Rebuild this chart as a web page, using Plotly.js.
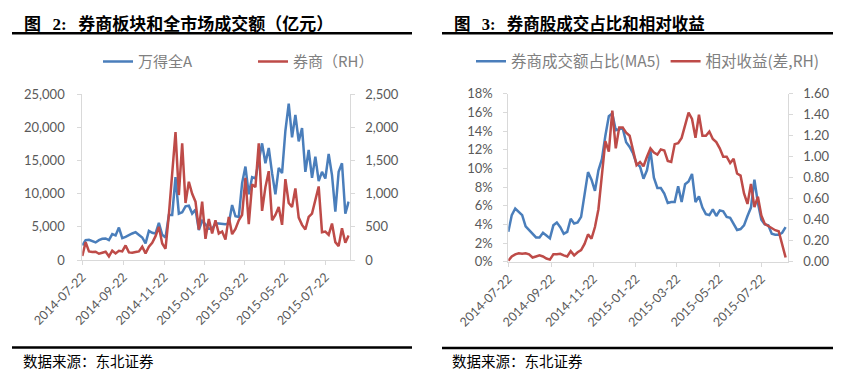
<!DOCTYPE html>
<html>
<head>
<meta charset="utf-8">
<script src="https://cdn.plot.ly/plotly-3.0.1.min.js"></script>
<style>html,body{margin:0;padding:0;background:#fff;}#chart{width:852px;height:381px;}</style>
</head>
<body>
<div id="chart"></div>
<script>
// ---- data (sampled every 5 calendar days from 2014-07-22) ----
const startDate = '2014-07-22';
const stepDays = 5;
const tickLabels = ['2014-07-22','2014-09-22','2014-11-22','2015-01-22','2015-03-22','2015-05-22','2015-07-22'];

// 图2: 万得全A 成交额 (亿元, left axis)
const allA = [2200,3000,3050,2900,2650,3000,3200,3250,3000,3900,
  3700,4900,3300,3500,3800,4000,4200,3750,3400,2500,
  4400,4100,4000,5600,3800,3400,6800,6800,12500,7000,
  7200,8100,8200,7000,7600,4500,5900,5400,4700,4700,
  5500,5500,5400,5400,5500,8300,6600,6500,11600,14100,
  9900,12500,12300,14900,17600,14600,16900,13100,9900,13900,
  13100,19500,23600,18500,21900,17900,19900,13300,16600,12400,
  15600,11900,13300,12300,16000,12800,7300,13300,14600,7000,8800];
// 图2: 券商 成交额 (亿元, right axis)
const broker = [60,270,130,120,125,95,110,125,55,140,
  100,140,130,220,115,110,120,130,200,100,
  200,260,360,500,250,170,680,1250,1930,980,
  1760,860,1180,1000,880,460,880,320,620,400,
  600,400,430,310,650,390,470,600,680,1240,
  540,1140,1100,1760,740,1100,1340,600,680,800,
  530,1220,860,800,1080,640,530,460,650,700,
  930,1110,420,430,380,550,270,210,480,260,370];
// 图3: 券商成交额占比 MA5 (%, left axis)
const share = [3.2,5.0,5.7,5.4,5.0,3.8,3.4,2.9,2.6,2.6,
  3.1,2.8,2.5,3.9,4.2,3.7,3.0,3.2,4.6,4.1,
  4.2,4.8,7.0,9.6,8.8,7.6,9.8,11.0,13.5,15.6,
  15.9,14.1,14.2,14.3,12.8,12.3,11.6,10.5,10.2,8.9,
  9.8,11.9,9.0,7.9,7.9,7.3,6.3,6.4,6.4,8.1,
  6.4,8.3,8.6,9.4,6.4,7.0,5.8,5.1,5.0,5.6,
  4.9,5.5,5.4,4.8,4.7,4.0,3.4,3.5,3.9,4.9,
  5.8,8.8,6.3,4.5,4.0,3.9,3.0,2.9,2.9,3.1,3.7];
// 图3: 相对收益 (差, right axis)
const relRet = [0.01,0.05,0.07,0.08,0.075,0.08,0.07,0.04,0.05,0.06,
  0.05,0.03,0.02,0.07,0.07,0.075,0.06,0.05,0.10,0.06,
  0.09,0.11,0.17,0.26,0.22,0.33,0.50,0.80,1.15,1.05,
  1.44,1.08,1.28,1.28,1.23,1.20,1.05,0.92,0.95,0.91,
  1.00,1.08,1.04,1.02,1.07,1.06,0.96,0.95,1.12,1.13,
  1.18,1.30,1.42,1.36,1.18,1.40,1.20,1.20,1.24,1.17,
  1.14,1.08,1.00,1.00,0.94,0.98,0.84,0.82,0.65,0.55,
  0.74,0.52,0.62,0.44,0.36,0.34,0.32,0.30,0.29,0.15,0.04];

function dateAt(i){
  const d = new Date(startDate + 'T00:00:00Z');
  d.setUTCDate(d.getUTCDate() + i*stepDays);
  return d.toISOString().slice(0,10);
}
const dates = allA.map((_, i) => dateAt(i));

// ---- layout helpers (pixel -> paper) ----
const W = 852, H = 381;
const px = x => x / W;
const py = y => 1 - y / H;

const BLUE = '#4A7EBB', RED = '#BE4B48';
const CJK = '"Noto Sans CJK SC", "Liberation Sans", sans-serif';
const NUM = 'Lato, "Liberation Sans", sans-serif';
const AX = '#D9D9D9', TXT = '#595959';

const traces = [
  {x: dates, y: allA, name: '万得全A', type: 'scatter', mode: 'lines', xaxis: 'x', yaxis: 'y',
   line: {color: BLUE, width: 2.5}, legend: 'legend'},
  {x: dates, y: broker, name: '券商（RH）', type: 'scatter', mode: 'lines', xaxis: 'x', yaxis: 'y2',
   line: {color: RED, width: 2.5}, legend: 'legend'},
  {x: dates, y: share, name: '券商成交额占比(MA5)', type: 'scatter', mode: 'lines', xaxis: 'x2', yaxis: 'y3',
   line: {color: BLUE, width: 2.5}, legend: 'legend2'},
  {x: dates, y: relRet, name: '相对收益(差,RH)', type: 'scatter', mode: 'lines', xaxis: 'x2', yaxis: 'y4',
   line: {color: RED, width: 2.5}, legend: 'legend2'}
];

function xAxis(domain, anchor, endDate){
  return {domain: domain, anchor: anchor, type: 'date', range: [startDate, endDate],
    tickmode: 'array', tickvals: tickLabels, ticktext: tickLabels, tickangle: -45,
    ticks: 'outside', ticklen: 4, tickcolor: AX, showline: true, linecolor: AX, linewidth: 1,
    showgrid: false, zeroline: false, tickfont: {family: NUM, size: 12.5, color: TXT}};
}
function yAxis(extra){
  return Object.assign({showgrid: false, zeroline: false, showline: true, linecolor: AX, linewidth: 1,
    ticks: 'outside', ticklen: 4, tickcolor: AX, tickfont: {family: NUM, size: 13, color: TXT},
    fixedrange: true}, extra);
}

const layout = {
  width: W, height: H, margin: {l: 0, r: 0, t: 0, b: 0},
  paper_bgcolor: '#fff', plot_bgcolor: 'rgba(0,0,0,0)',
  showlegend: true,
  xaxis: xAxis([px(82.3), px(349.7)], 'y', '2015-08-27 14:00'),
  yaxis: yAxis({domain: [py(260), py(94.3)], anchor: 'x', range: [0, 25000], dtick: 5000,
    tickformat: ',d', ticklabelstandoff: 10}),
  yaxis2: yAxis({overlaying: 'y', side: 'right', anchor: 'x', range: [0, 2500], dtick: 500,
    tickformat: ',d', ticklabelstandoff: 8}),
  xaxis2: xAxis([px(508.3), px(787.7)], 'y3', '2015-08-29'),
  yaxis3: yAxis({domain: [py(261.7), py(93.8)], anchor: 'x2', range: [0, 18], dtick: 2,
    ticksuffix: '%', ticklabelstandoff: 8}),
  yaxis4: yAxis({overlaying: 'y3', side: 'right', anchor: 'x2', range: [0, 1.6], dtick: 0.2,
    tickformat: '.2f', ticklabelstandoff: 8}),
  legend: {orientation: 'h', x: px(98), y: py(61.7), xanchor: 'left', yanchor: 'middle',
    font: {family: CJK, size: 15, color: '#808080'}, bgcolor: 'rgba(0,0,0,0)', itemwidth: 30,
    entrywidth: 110, entrywidthmode: 'pixels'},
  legend2: {orientation: 'h', x: px(471), y: py(61.7), xanchor: 'left', yanchor: 'middle',
    font: {family: CJK, size: 15.5, color: '#808080'}, bgcolor: 'rgba(0,0,0,0)', itemwidth: 30},
  shapes: [
    {type: 'line', xref: 'paper', yref: 'paper', x0: px(12), x1: px(412), y0: py(33.3), y1: py(33.3), line: {color: '#000', width: 2.5}},
    {type: 'line', xref: 'paper', yref: 'paper', x0: px(442), x1: px(833), y0: py(33.3), y1: py(33.3), line: {color: '#000', width: 2.5}},
    {type: 'line', xref: 'paper', yref: 'paper', x0: px(12), x1: px(412), y0: py(347.5), y1: py(347.5), line: {color: '#000', width: 2.5}},
    {type: 'line', xref: 'paper', yref: 'paper', x0: px(442), x1: px(833), y0: py(348), y1: py(348), line: {color: '#000', width: 2.5}}
  ],
  annotations: [
    {xref: 'paper', yref: 'paper', x: px(22), y: py(22.5), xanchor: 'left', yanchor: 'middle', showarrow: false,
     text: '<b>图\u00a0\u00a0\u00a0<span style="font-family:Liberation Serif">2:</span>\u00a0\u00a0\u00a0券商板块和全市场成交额（亿元）</b>',
     font: {family: CJK, size: 17, color: '#000'}},
    {xref: 'paper', yref: 'paper', x: px(452), y: py(22.5), xanchor: 'left', yanchor: 'middle', showarrow: false,
     text: '<b>图\u00a0\u00a0\u00a0<span style="font-family:Liberation Serif">3:</span>\u00a0\u00a0\u00a0券商股成交占比和相对收益</b>',
     font: {family: CJK, size: 16.5, color: '#000'}},
    {xref: 'paper', yref: 'paper', x: px(21), y: py(360), xanchor: 'left', yanchor: 'middle', showarrow: false,
     text: '数据来源：东北证券', font: {family: CJK, size: 14.5, color: '#000'}},
    {xref: 'paper', yref: 'paper', x: px(450), y: py(360), xanchor: 'left', yanchor: 'middle', showarrow: false,
     text: '数据来源：东北证券', font: {family: CJK, size: 14.5, color: '#000'}}
  ]
};

Plotly.newPlot('chart', traces, layout, {displayModeBar: false, staticPlot: true});
</script>
</body>
</html>
